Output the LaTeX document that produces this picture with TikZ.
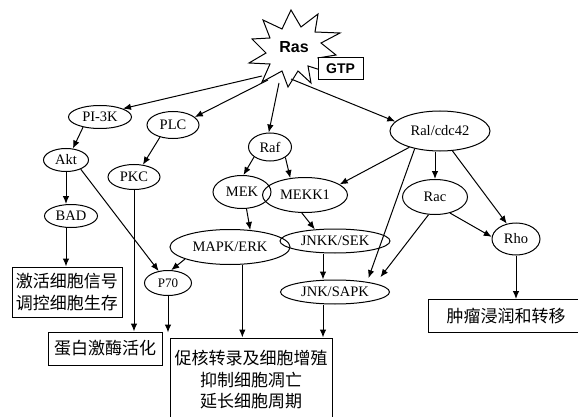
\documentclass[tikz,border=0pt]{standalone}
\usepackage{fontspec}
\setmainfont{Liberation Serif}
\newfontfamily\cjk{Noto Sans CJK SC}
\newfontfamily\arialfont{Liberation Sans}
\usetikzlibrary{shapes.geometric,arrows.meta}
\begin{document}
\begin{tikzpicture}[x=1pt,y=-1pt,line width=1pt,
 ell/.style={draw,ellipse,inner sep=0pt,font=\fontsize{14.5}{16}\selectfont},
 box/.style={draw,rectangle,inner sep=0pt,font=\cjk\fontsize{17}{21.5}\selectfont,align=center},
 arr/.style={-{Latex[length=8pt,width=6.5pt]}},
]
\useasboundingbox (0,0) rectangle (578,417);
\clip (0,0) rectangle (578,417);
% Ras starburst
\draw[fill=white,line width=1pt] (291,10) -- (301,27) -- (318,14) -- (315,32) -- (340,33) -- (321,43)
  -- (336,55) -- (318,58) -- (330,73) -- (308,66) -- (311,83) -- (298,71) -- (288,87) -- (282,71)
  -- (262,82) -- (270,64) -- (249,63) -- (266,53) -- (252,39) -- (270,38) -- (263,20) -- (282,29) -- cycle;
\node[font=\arialfont\bfseries\fontsize{16}{18}\selectfont,inner sep=0pt] (ras) at (294,47) {Ras};
\node[draw,fill=white,inner sep=0pt,minimum width=45pt,minimum height=22pt,
  font=\arialfont\bfseries\fontsize{14}{16}\selectfont] (gtp) at (340.5,69) {GTP};
\coordinate (rs1) at (262,76);
\coordinate (rs2) at (268,80);
\coordinate (rs3) at (279,83);
\coordinate (rs4) at (291,79);
% ellipses
\node[ell,minimum width=63pt,minimum height=23pt] (pi3k) at (100,117) {PI-3K};
\node[ell,minimum width=52pt,minimum height=27pt] (plc) at (173,125) {PLC};
\node[ell,minimum width=45pt,minimum height=23pt] (akt) at (66,160) {Akt};
\node[ell,minimum width=52pt,minimum height=25pt] (pkc) at (134,177) {PKC};
\node[ell,minimum width=43pt,minimum height=28pt] (raf) at (270,147) {Raf};
\node[ell,minimum width=58pt,minimum height=33pt] (mek) at (242,192) {MEK};
\node[ell,minimum width=53pt,minimum height=23pt] (bad) at (71,216) {BAD};
\node[ell,minimum width=85pt,minimum height=35pt] (mekk) at (305,195) {MEKK1};
\node[ell,minimum width=100pt,minimum height=40pt] (ral) at (440,131) {Ral/cdc42};
\node[ell,minimum width=65pt,minimum height=35pt] (rac) at (435,197) {Rac};
\node[ell,minimum width=48pt,minimum height=32pt] (rho) at (516,239) {Rho};
\node[ell,minimum width=110pt,minimum height=24pt] (jnkk) at (335,241) {JNKK/SEK};
\node[ell,minimum width=120pt,minimum height=35pt] (mapk) at (230,247) {MAPK/ERK};
\node[ell,minimum width=47pt,minimum height=25pt,font=\fontsize{13}{15}\selectfont] (p70) at (168,283) {P70};
\node[ell,minimum width=109pt,minimum height=24pt] (jnk) at (335,292) {JNK/SAPK};
% boxes
\node[box,minimum width=110pt,minimum height=50pt] (b1) at (67,292) {激活细胞信号\\调控细胞生存};
\node[box,minimum width=114pt,minimum height=33pt] (b2) at (105,348.5) {蛋白激酶活化};
\node[box,minimum width=162pt,minimum height=84pt] (b3) at (251,380) {促核转录及细胞增殖\\抑制细胞凋亡\\延长细胞周期};
\node[box,minimum width=152pt,minimum height=33pt] (b4) at (504,316) {\hspace*{4pt}肿瘤浸润和转移};
% connectors
\draw[arr] (rs1) -- (pi3k.20);
\draw[arr] (rs2) -- (plc.20);
\draw[arr] (rs3) -- (raf.95);
\draw[arr] (rs4) -- (ral.168);
\draw[arr] (pi3k.211) -- (akt.59);
\draw[arr] (plc.223) -- (pkc.54);
\draw[arr] (raf.212) -- (mek.85);
\draw[arr] (raf.326) -- (mekk.131);
\draw[arr] (ral.208) -- (mekk.17);
\draw[arr] (ral.215) -- ([xshift=-5.5pt,yshift=5pt]jnk.north east);
\draw[arr] (rac.north |- ral.south) -- (rac.north);
\draw[arr] (ral.302) -- (rho.121);
\draw[arr] (rac.313) -- (rho.175);
\draw[arr] (rac.250) -- ([xshift=6.5pt,yshift=6pt]jnk.north east);
\draw[arr] (mek.285) -- (mapk.40);
\draw[arr] (mekk.260) -- (jnkk.150);
\draw[arr] (akt.south) -- (akt.south |- bad.north);
\draw[arr] (akt.328) -- (p70.128);
\draw[arr] (mapk.195) -- (p70.76);
\draw[arr] (bad.south -| akt) -- (b1.north -| akt);
\draw[arr] (pkc.south) -- (pkc.south |- b2.north);
\draw[arr,shorten >=5pt] (p70.south) -- (p70.south |- b3.north);
\draw[arr] (mapk.305) -- (mapk.305 |- b3.north);
\draw[arr] ([xshift=-12pt]jnkk.south) -- ([xshift=-12pt]jnk.north);
\draw[arr] ([xshift=-12pt]jnk.south) -- ([xshift=-12pt]jnk.south |- b3.north);
\draw[arr] (rho.south) -- (rho.south |- b4.north);
\end{tikzpicture}
\end{document}
